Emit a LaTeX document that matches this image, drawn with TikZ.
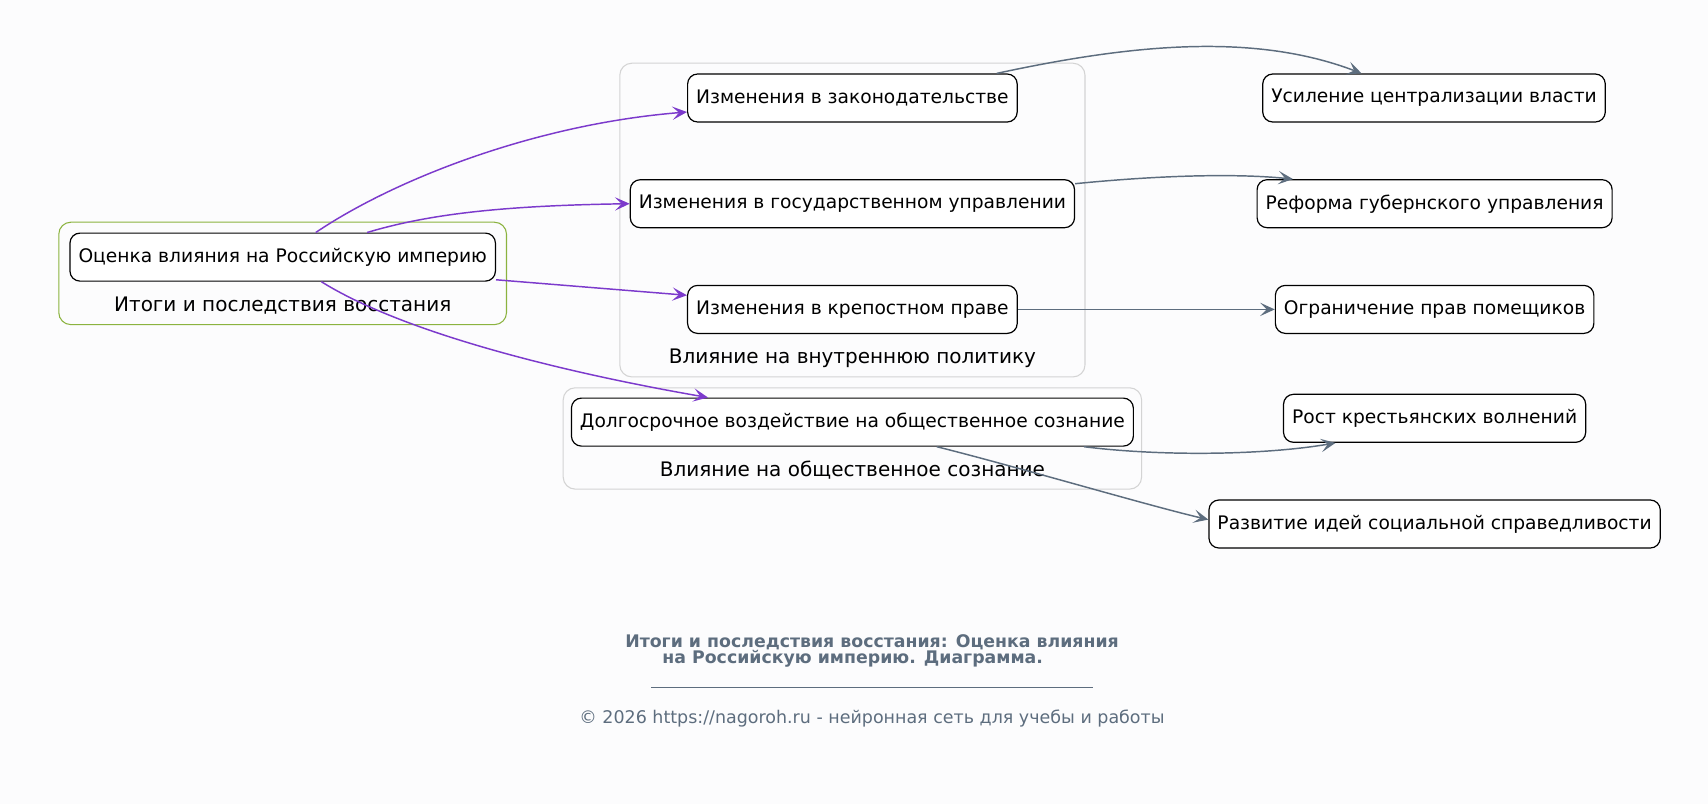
\documentclass[tikz,border=0pt]{standalone}
\usepackage{fontspec}
\setmainfont{DejaVu Sans}
\usetikzlibrary{arrows.meta}
\definecolor{bgColor}{RGB}{252,252,253}
\definecolor{mainEdge}{RGB}{124,58,204}
\definecolor{sideEdge}{RGB}{93,109,126}
\definecolor{greenFrame}{RGB}{139,179,63}
\definecolor{grayFrame}{RGB}{212,212,212}
\tikzstyle{canvas} = [x = 0.75pt, y = -0.75pt]
\tikzstyle{boxStyle} = [draw=black, fill=white, rounded corners = 7.5pt, line width=0.9pt, minimum height=36pt, inner xsep=6.4pt, font=\fontsize{14}{17}\selectfont]
\tikzstyle{clusterText} = [font=\fontsize{15}{17}\selectfont]
\tikzstyle{mainEdgeStyle} = [color=mainEdge, line width=1.1pt, -{Stealth[length=11pt, width=10pt, inset=5pt]}]
\tikzstyle{sideEdgeStyle} = [color=sideEdge, line width=1.1pt, -{Stealth[length=11pt, width=10pt, inset=5pt]}]
\newcommand{\clusterBox}[5]{\draw [color=#5, rounded corners = 9pt, line width=0.8pt] (#1,#2) rectangle (#3,#4);}

\begin{document}
\begin{tikzpicture}[canvas]
  \fill [bgColor] (0,0) rectangle (1708,804);
  \useasboundingbox (0,0) rectangle (1708,804);

  % clusters
  \clusterBox{58.8}{222.2}{506.5}{324.6}{greenFrame}
  \clusterBox{619.8}{63.2}{1085}{376.9}{grayFrame}
  \clusterBox{563.2}{387.8}{1141.6}{489.1}{grayFrame}
  \node [clusterText] (resultsLabel) at (282.7,306) {Итоги и последствия восстания};
  \node [clusterText] (policyLabel) at (852.4,358.4) {Влияние на внутреннюю политику};
  \node [clusterText] (publicLabel) at (852.4,470.6) {Влияние на общественное сознание};

  % boxes
  \node [boxStyle] (assess) at (282.7,257.1) {Оценка влияния на Российскую империю};
  \node [boxStyle] (law) at (852.4,98) {Изменения в законодательстве};
  \node [boxStyle] (gov) at (852.4,203.7) {Изменения в государственном управлении};
  \node [boxStyle] (serf) at (852.4,309.4) {Изменения в крепостном праве};
  \node [boxStyle] (public) at (852.4,422.1) {Долгосрочное воздействие на общественное сознание};
  \node [boxStyle] (central) at (1434,98) {Усиление централизации власти};
  \node [boxStyle] (reform) at (1434.6,203.7) {Реформа губернского управления};
  \node [boxStyle] (limit) at (1434.6,309.4) {Ограничение прав помещиков};
  \node [boxStyle] (unrest) at (1434.6,418.3) {Рост крестьянских волнений};
  \node [boxStyle] (justice) at (1434.6,524) {Развитие идей социальной справедливости};

  % edges
  \draw [mainEdgeStyle] ([xshift=24.8pt]assess.north) .. controls +(80,-54) and +(-150,12) .. ([yshift=-10.5pt]law.west);
  \draw [mainEdgeStyle] ([xshift=63.3pt]assess.north) .. controls +(60,-18) and +(-130,2) .. (gov.west);
  \draw [mainEdgeStyle] ([yshift=-17pt]assess.east) -- ([yshift=10.6pt]serf.west);
  \draw [mainEdgeStyle] ([xshift=29pt]assess.south) .. controls +(80,50) and +(-150,-26) .. ([xshift=-108.3pt]public.north);
  \draw [sideEdgeStyle] ([xshift=108.2pt]law.north) .. controls +(130,-28) and +(-110,-42) .. ([xshift=-54.3pt]central.north);
  \draw [sideEdgeStyle] ([yshift=15pt]gov.east) .. controls +(80,-8) and +(-60,-6) .. ([xshift=-106.2pt]reform.north);
  \draw [sideEdgeStyle] (serf.east) -- (limit.west);
  \draw [sideEdgeStyle] ([xshift=173.6pt]public.south) .. controls +(80,10) and +(-70,12) .. ([xshift=-74.3pt]unrest.south);
  \draw [sideEdgeStyle] ([xshift=63.3pt]public.south) .. controls +(80,20) and +(-60,-14) .. ([yshift=3.3pt]justice.west);

  % caption
  \node [color=sideEdge, align=center, font=\fontsize{13}{12.3}\selectfont\bfseries] (caption) at (872,650.9)
    {Итоги и последствия восстания: Оценка влияния\\на Российскую империю. Диаграмма.\hspace*{29pt}};
  \draw [color=sideEdge, line width=0.6pt] (651.4,687.3) -- (1092.6,687.3);
  \node [color=sideEdge, font=\fontsize{13.1}{15}\selectfont] (footer) at (872,719)
    {© 2026 https://nagoroh.ru - нейронная сеть для учебы и работы};
\end{tikzpicture}
\end{document}
